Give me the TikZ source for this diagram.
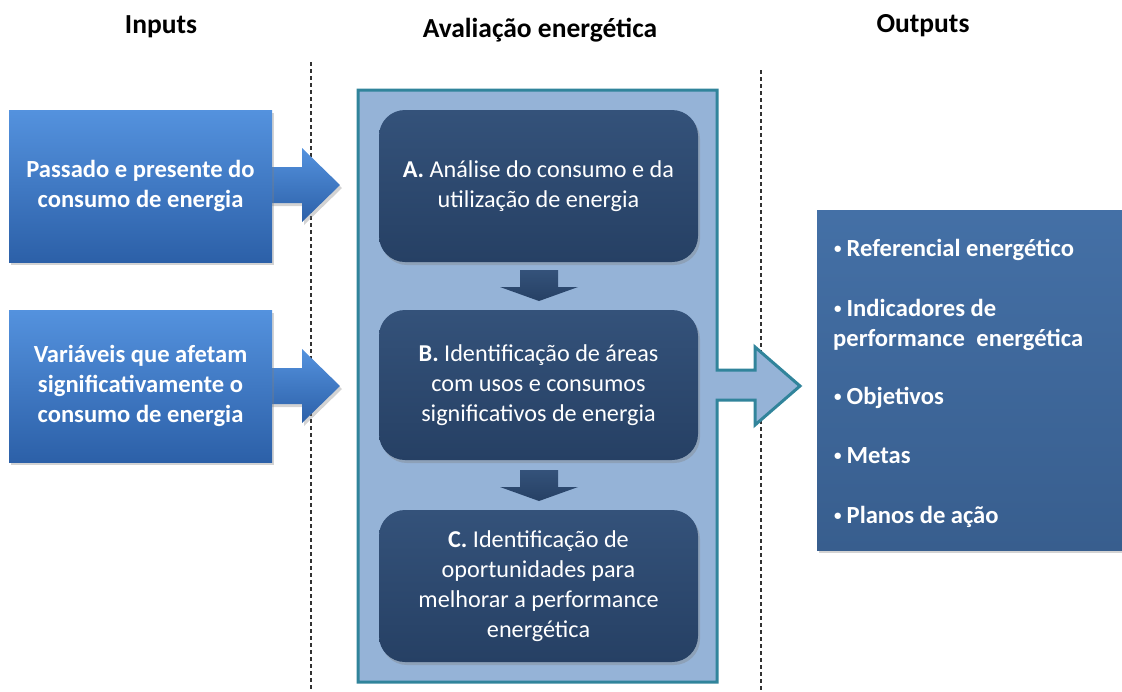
\documentclass[tikz,border=0pt]{standalone}
\usepackage{fontspec}
\setmainfont{Carlito}
\usetikzlibrary{shadows}
\definecolor{inTop}{RGB}{84,146,222}
\definecolor{inBot}{RGB}{44,96,168}
\definecolor{navyTop}{RGB}{52,82,122}
\definecolor{navyBot}{RGB}{38,64,100}
\definecolor{navy}{RGB}{44,72,110}
\definecolor{contFill}{RGB}{149,179,215}
\definecolor{contLine}{RGB}{49,132,155}
\definecolor{outTop}{RGB}{68,112,166}
\definecolor{outBot}{RGB}{56,94,142}
\definecolor{dashcol}{RGB}{50,50,50}
\newcommand{\obul}{\raisebox{3pt}{\fontsize{15}{15}\selectfont •}\hspace{5pt}}
\begin{document}
\begin{tikzpicture}[x=1pt,y=-1pt,
  title/.style={font=\fontsize{27.5}{30}\selectfont\bfseries, anchor=base, text=black},
  shad/.style={drop shadow={opacity=0.35, shadow xshift=2pt, shadow yshift=-3pt}},
  inbox/.style={rectangle, minimum width=263pt, minimum height=152pt, inner sep=0pt,
    top color=inTop, bottom color=inBot, shad, text=white, align=center,
    font=\fontsize{24.6}{30}\selectfont\bfseries},
  stepbox/.style={rectangle, rounded corners=26pt, minimum width=319pt, inner sep=0pt,
    top color=navyTop, bottom color=navyBot, shad, text=white, align=center,
    font=\fontsize{24.2}{30}\selectfont},
  outbox/.style={rectangle, minimum width=330pt, minimum height=340pt, inner sep=0pt,
    top color=outTop, bottom color=outBot, shad},
  outitem/.style={anchor=base west, text=white, inner sep=0pt,
    font=\fontsize{24.6}{30}\selectfont\bfseries},
  sep/.style={dashcol, line width=1.4pt, dash pattern=on 4pt off 3pt}
]
\useasboundingbox (0,0) rectangle (1122,691);
\clip (0,0) rectangle (1122,691);

% titles
\node[title] (tIn) at (161,33) {Inputs};
\node[title] (tEval) at (540,37) {Avaliação energética};
\node[title] (tOut) at (923,32) {Outputs};

% separators
\coordinate (s1a) at (311,62); \coordinate (s1b) at (311,691);
\coordinate (s2a) at (761,70); \coordinate (s2b) at (761,691);
\draw[sep] (s1a) -- (s1b);
\draw[sep] (s2a) -- (s2b);

% container with output arrow
\draw[fill=contFill, draw=contLine, line width=3pt, line join=miter]
  (358,90) -- (717,90) -- (717,370) -- (755,370) -- (755,347) -- (800,386)
  -- (755,425) -- (755,400) -- (717,400) -- (717,682) -- (358,682) -- cycle;

% input arrows
\shade[top color=inTop, bottom color=inBot, shad]
  (262,167) -- (302,167) -- (302,148) -- (340,185) -- (302,222) -- (302,203) -- (262,203) -- cycle;
\shade[top color=inTop, bottom color=inBot, shad]
  (262,368) -- (302,368) -- (302,349) -- (340,386) -- (302,423) -- (302,404) -- (262,404) -- cycle;

% input boxes
\node[inbox] (in1) at (140.5,186) {Passado e presente do\\consumo de energia};
\node[inbox] (in2) at (140.5,386) {Variáveis que afetam\\significativamente o\\consumo de energia};

% inner steps
\node[stepbox, minimum height=152pt] (boxA) at (538.5,186)
  {\textbf{A.} Análise do consumo e da\\utilização de energia};
\node[stepbox, minimum height=150pt] (boxB) at (538.5,385)
  {\textbf{B.} Identificação de áreas\\com usos e consumos\\significativos de energia};
\node[stepbox, minimum height=152pt] (boxC) at (538.5,586)
  {\textbf{C.} Identificação de\\oportunidades para\\melhorar a performance\\energética};

% down arrows
\shade[top color=navyTop, bottom color=navyBot]
  (520,270) -- (558,270) -- (558,287) -- (578,287) -- (539,301) -- (500,287) -- (520,287) -- cycle;
\shade[top color=navyTop, bottom color=navyBot]
  (520,470) -- (558,470) -- (558,487) -- (578,487) -- (539,501) -- (500,487) -- (520,487) -- cycle;

% output box
\node[outbox] (out) at (982,380) {};
\node[outitem] (o1) at (834,256) {\obul Referencial energético};
\node[outitem] (o2) at (834,316) {\obul Indicadores de};
\node[outitem] (o2b) at (833,346) {performance\hspace{6pt} energética};
\node[outitem] (o3) at (834,404) {\obul Objetivos};
\node[outitem] (o4) at (834,463) {\obul Metas};
\node[outitem] (o5) at (834,523) {\obul Planos de ação};
\end{tikzpicture}
\end{document}
